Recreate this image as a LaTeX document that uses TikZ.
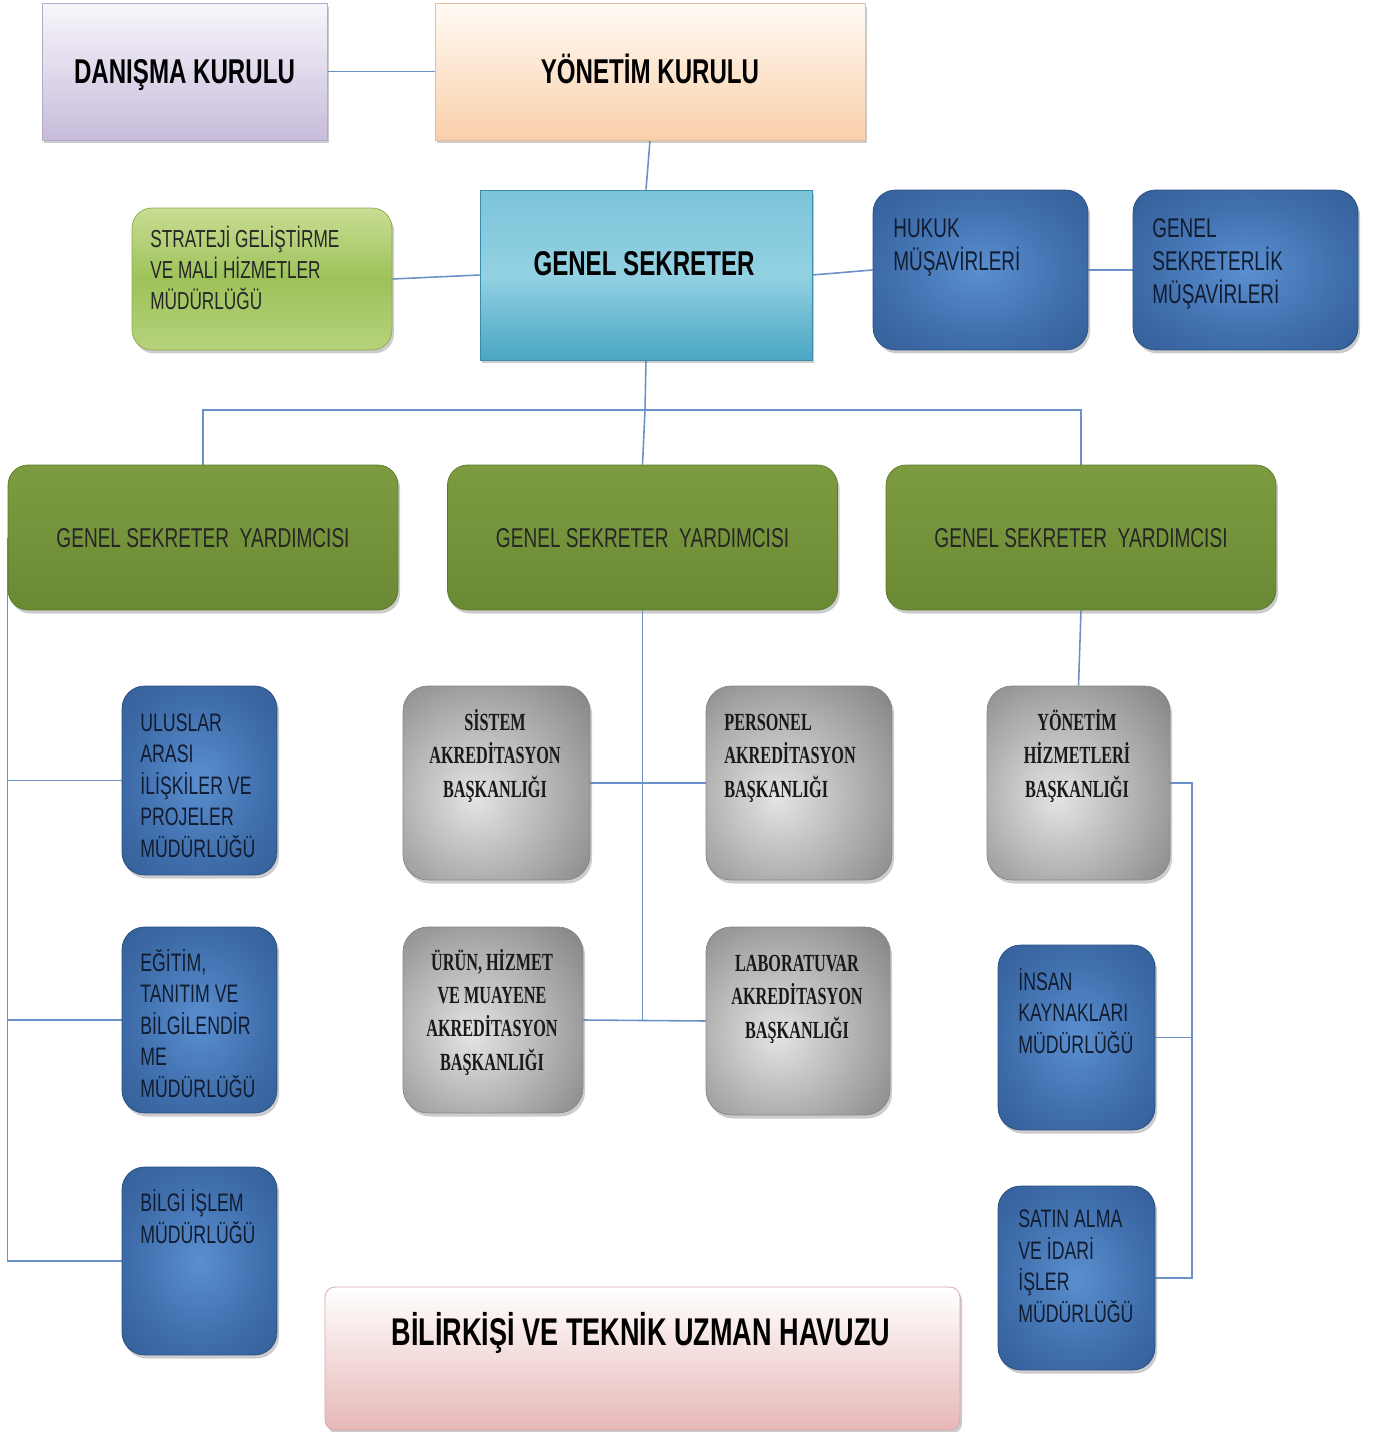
\documentclass[tikz,border=0pt]{standalone}
\usepackage{fontspec}
\setmainfont{Liberation Sans}
\newfontfamily\narrowsans[FakeStretch=0.7]{Liberation Sans}
\newfontfamily\narrowserif[FakeStretch=0.66]{Liberation Serif}
\usetikzlibrary{shadows,backgrounds}

\definecolor{linkblue}{HTML}{6A92C8}
\definecolor{lavtop}{HTML}{F8F6FB}
\definecolor{lavbot}{HTML}{C7BCDB}
\definecolor{lavdraw}{HTML}{B4AAC8}
\definecolor{peachtop}{HTML}{FFFAF4}
\definecolor{peachbot}{HTML}{FAD0AA}
\definecolor{peachdraw}{HTML}{E9BE98}
\definecolor{gstop}{HTML}{7CC4D9}
\definecolor{gsmid}{HTML}{92D1E2}
\definecolor{gsbot}{HTML}{4AA6C4}
\definecolor{gsdraw}{HTML}{3A8CA8}
\definecolor{strtop}{HTML}{C8DD93}
\definecolor{strmid}{HTML}{9EC25A}
\definecolor{strbot}{HTML}{B6D27C}
\definecolor{strdraw}{HTML}{8AAA4C}
\definecolor{olivetop}{HTML}{7D9C41}
\definecolor{olivebot}{HTML}{6A8933}
\definecolor{olivedraw}{HTML}{5C792A}
\definecolor{glowin}{HTML}{5A8FCF}
\definecolor{glowmid}{HTML}{4170AE}
\definecolor{glowout}{HTML}{2E5890}
\definecolor{bluedraw}{HTML}{284E80}
\definecolor{grayin}{HTML}{E4E4E4}
\definecolor{graymid}{HTML}{B8B8B8}
\definecolor{grayout}{HTML}{727272}
\definecolor{graydraw}{HTML}{858585}
\definecolor{pinkbot}{HTML}{E6B8B7}
\definecolor{pinkdraw}{HTML}{D7A4A3}
\definecolor{navytext}{HTML}{121C30}

\pgfdeclareradialshading{blueglow}{\pgfpoint{0bp}{0bp}}{color(0bp)=(glowin); color(20bp)=(glowmid); color(42bp)=(glowout); color(100bp)=(glowout)}
\pgfdeclareradialshading{grayglow}{\pgfpoint{-6bp}{-4bp}}{color(0bp)=(grayin); color(18bp)=(graymid); color(46bp)=(grayout); color(100bp)=(grayout)}

\tikzset{
  boxbase/.style={inner sep=0pt, line width=0.4pt,
    drop shadow={shadow xshift=1.2pt, shadow yshift=-2pt, opacity=0.4}},
  danbox/.style={boxbase, draw=lavdraw, top color=lavtop, bottom color=lavbot},
  yonbox/.style={boxbase, draw=peachdraw, top color=peachtop, bottom color=peachbot},
  gsbox/.style={boxbase, draw=gsdraw, top color=gstop, bottom color=gsbot, middle color=gsmid},
  stratbox/.style={boxbase, rounded corners=0.4cm, draw=strdraw, top color=strtop, bottom color=strbot, middle color=strmid},
  yardbox/.style={boxbase, rounded corners=0.4cm, draw=olivedraw, top color=olivetop, bottom color=olivebot},
  bluebox/.style={boxbase, rounded corners=0.45cm, draw=bluedraw, shading=blueglow},
  graybox/.style={boxbase, rounded corners=0.5cm, draw=graydraw, shading=grayglow},
  havbox/.style={boxbase, rounded corners=0.2cm, draw=pinkdraw, top color=white, bottom color=pinkbot},
  conn/.style={draw=linkblue, line width=0.9pt},
  bigtxt/.style={text=black, text height=14pt, text depth=0pt, font=\narrowsans\bfseries\fontsize{19.6pt}{22pt}\selectfont},
  yardtxt/.style={text=black!85, text height=11pt, text depth=0pt, font=\narrowsans\fontsize{15.5pt}{18pt}\selectfont},
  strtxt/.style={inner sep=0pt, align=left, text=black!85, font=\narrowsans\fontsize{14pt}{17.9pt}\selectfont},
  mustxt/.style={inner sep=0pt, align=left, text=navytext, font=\narrowsans\fontsize{15.4pt}{18.8pt}\selectfont},
  birtxt/.style={inner sep=0pt, align=left, text=navytext, font=\narrowsans\fontsize{14.4pt}{17.9pt}\selectfont},
  baskantxt/.style={inner sep=0pt, text=black!90, font=\narrowserif\bfseries\fontsize{14pt}{18.8pt}\selectfont}
}

\begin{document}
\begin{tikzpicture}[x=0.02cm, y=-0.02cm]
  \useasboundingbox (0,0) rectangle (1382,1432);

  \node[danbox, minimum width=5.7cm, minimum height=2.74cm, bigtxt] (dk) at (184.5,71.5) {DANIŞMA KURULU};
  \node[yonbox, minimum width=8.6cm, minimum height=2.74cm, bigtxt] (yk) at (650,71.5) {YÖNETİM KURULU};

  \node[gsbox, minimum width=6.64cm, minimum height=3.4cm] (gs) at (646,275) {};
  \node[bigtxt, inner sep=0pt, anchor=base] (gsT) at (644,276) {GENEL SEKRETER};

  % text nodes below sit on the baseline of their last line
  \node[stratbox, minimum width=5.2cm, minimum height=2.84cm] (strat) at (262,279) {};
  \node[strtxt, anchor=base west] (stratT) at (150,310) {STRATEJİ GELİŞTİRME\\VE MALİ HİZMETLER\\MÜDÜRLÜĞÜ};

  \node[bluebox, minimum width=4.3cm, minimum height=3.2cm] (hukuk) at (980.5,270) {};
  \node[mustxt, anchor=base west] (hukukT) at (893,271) {HUKUK\\MÜŞAVİRLERİ};
  \node[bluebox, minimum width=4.5cm, minimum height=3.2cm] (gsmus) at (1245.5,270) {};
  \node[mustxt, anchor=base west] (gsmusT) at (1152,304) {GENEL\\SEKRETERLİK\\MÜŞAVİRLERİ};

  \foreach \i/\x in {1/203,2/642.5,3/1081}
    \node[yardbox, minimum width=7.8cm, minimum height=2.9cm, yardtxt] (gsy\i) at (\x,537.5) {GENEL SEKRETER\ \ YARDIMCISI};

  \node[bluebox, minimum width=3.1cm, minimum height=3.78cm] (ulus) at (199.5,780.5) {};
  \node[birtxt, anchor=base west] (ulusT) at (140,857) {ULUSLAR\\ARASI\\İLİŞKİLER VE\\PROJELER\\MÜDÜRLÜĞÜ};
  \node[bluebox, minimum width=3.1cm, minimum height=3.72cm] (egitim) at (199.5,1020) {};
  \node[birtxt, anchor=base west] (egitimT) at (140,1097) {EĞİTİM,\\TANITIM VE\\BİLGİLENDİR\\ME\\MÜDÜRLÜĞÜ};
  \node[bluebox, minimum width=3.1cm, minimum height=3.76cm] (bilgi) at (199.5,1261) {};
  \node[birtxt, anchor=base west] (bilgiT) at (140,1243) {BİLGİ İŞLEM\\MÜDÜRLÜĞÜ};

  \node[graybox, minimum width=3.74cm, minimum height=3.88cm] (sistem) at (496.5,783) {};
  \node[baskantxt, align=center, anchor=base] (sistemT) at (495,797) {SİSTEM\\AKREDİTASYON\\BAŞKANLIĞI};
  \node[graybox, minimum width=3.72cm, minimum height=3.88cm] (personel) at (799,783) {};
  \node[baskantxt, align=left, anchor=base west] (personelT) at (724,797) {PERSONEL\\AKREDİTASYON\\BAŞKANLIĞI};
  \node[graybox, minimum width=3.6cm, minimum height=3.72cm] (urun) at (493,1020) {};
  \node[baskantxt, align=center, anchor=base] (urunT) at (492,1070) {ÜRÜN, HİZMET\\VE MUAYENE\\AKREDİTASYON\\BAŞKANLIĞI};
  \node[graybox, minimum width=3.68cm, minimum height=3.76cm] (lab) at (798,1021) {};
  \node[baskantxt, align=center, anchor=base] (labT) at (797,1038) {LABORATUVAR\\AKREDİTASYON\\BAŞKANLIĞI};
  \node[graybox, minimum width=3.66cm, minimum height=3.88cm] (yhiz) at (1078.5,783) {};
  \node[baskantxt, align=center, anchor=base] (yhizT) at (1077,797) {YÖNETİM\\HİZMETLERİ\\BAŞKANLIĞI};

  \node[bluebox, minimum width=3.14cm, minimum height=3.7cm] (insan) at (1076.5,1037.5) {};
  \node[birtxt, anchor=base west] (insanT) at (1018,1053) {İNSAN\\KAYNAKLARI\\MÜDÜRLÜĞÜ};
  \node[bluebox, minimum width=3.14cm, minimum height=3.68cm] (satin) at (1076.5,1278) {};
  \node[birtxt, anchor=base west] (satinT) at (1018,1322) {SATIN ALMA\\VE İDARİ\\İŞLER\\MÜDÜRLÜĞÜ};

  \node[havbox, minimum width=12.7cm, minimum height=2.86cm] (bilir) at (642.5,1358.5) {};
  \node[bigtxt, inner sep=0pt, font=\narrowsans\bfseries\fontsize{22pt}{24pt}\selectfont, anchor=base] (bilirT) at (641,1345) {BİLİRKİŞİ VE TEKNİK UZMAN HAVUZU};

  \begin{scope}[on background layer]
    \draw[conn] (dk.east) -- (yk.west);
    \draw[conn] (yk.south) -- (gs.north);
    \draw[conn] (strat.east) -- (gs.west);
    \draw[conn] (gs.east) -- (hukuk.west);
    \draw[conn] (hukuk.east) -- (gsmus.west);
    \coordinate (bus) at (645,410);
    \draw[conn] (gs.south) -- (bus) -- (gsy2.north);
    \draw[conn] (gsy1.north) |- (bus) -| (gsy3.north);
    \draw[conn] (gsy1.west) |- (bilgi.west);
    \draw[conn] (gsy1.west |- ulus.west) -- (ulus.west);
    \draw[conn] (gsy1.west |- egitim.west) -- (egitim.west);
    \draw[conn] (gsy2.south) -- (gsy2.south |- urun.east);
    \draw[conn] (sistem.east) -- (personel.west);
    \draw[conn] (urun.east) -- (lab.west);
    \draw[conn] (gsy3.south) -- (yhiz.north);
    \coordinate (rbus) at (1192,783);
    \draw[conn] (yhiz.east) -- (rbus) |- (satin.east);
    \draw[conn] (insan.east) -- (insan.east -| rbus);
  \end{scope}
\end{tikzpicture}
\end{document}
